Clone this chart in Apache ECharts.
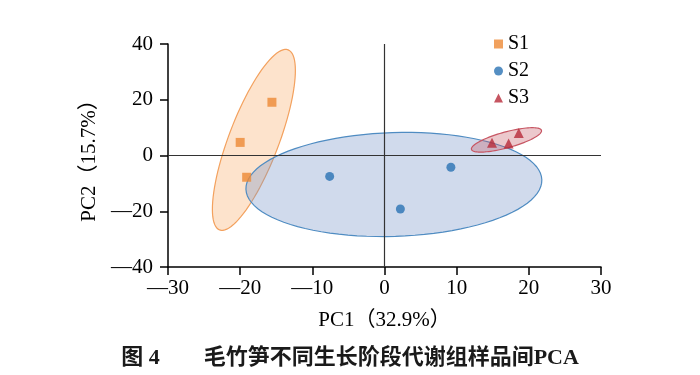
<!DOCTYPE html>
<html>
<head>
<meta charset="utf-8">
<script src="https://cdn.jsdelivr.net/npm/echarts@6/dist/echarts.min.js"></script>
<style>
  html, body { margin: 0; padding: 0; background: #fff; }
  #main { width: 700px; height: 375px; }
</style>
</head>
<body>
<div id="main"></div>
<script>
// 各组样品得分 [PC1, PC2]
var s1Points = [[-15.6, 19.1], [-20.0, 4.7], [-19.1, -7.8]];
var s2Points = [[-7.6, -7.5], [2.2, -19.2], [9.2, -4.2]];
var s3Points = [[14.9, 4.6], [17.2, 4.3], [18.6, 8.1]];

// 置信椭圆: [中心x, 中心y, 半轴1 dx, dy, 半轴2 dx, dy]
var s1Ellipse = [[-18.1, 5.6, 4.75, 32.3, 3.24, -3.19]];
var s2Ellipse = [[1.3, -10.4, 20.5, 1.7, 0.23, -18.6]];
var s3Ellipse = [[16.9, 5.6, 4.85, 3.4, 0.29, -2.76]];

var groupNames = ['S1', 'S2', 'S3'];
var xTicks = { min: -30, max: 30, interval: 10 };
var yTicks = { min: -40, max: 40, interval: 20 };

var serif = '"Times New Roman", "Liberation Serif", "Noto Sans CJK SC", serif';

var chart = echarts.init(document.getElementById('main'), null, { renderer: 'canvas' });

// 画椭圆 (通过坐标轴换算)
function ellipseRender(fill, stroke) {
    return function (params, api) {
        var cx = api.value(0), cy = api.value(1);
        var ux = api.value(2), uy = api.value(3);
        var vx = api.value(4), vy = api.value(5);
        var pts = [];
        for (var i = 0; i < 96; i++) {
            var t = i / 96 * Math.PI * 2;
            var c = Math.cos(t), s = Math.sin(t);
            pts.push(api.coord([cx + ux * c + vx * s, cy + uy * c + vy * s]));
        }
        return {
            type: 'polygon',
            shape: { points: pts },
            style: { fill: fill, stroke: stroke, lineWidth: 1.2 }
        };
    };
}

function minusFmt(v) {
    return v < 0 ? '\u2014' + Math.abs(v) : String(v);
}

var option = {
    animation: false,
    title: {
        text: '图 4\u3000\u3000毛竹笋不同生长阶段代谢组样品间PCA',
        left: 'center',
        top: 342,
        textStyle: { fontFamily: serif, fontSize: 22, fontWeight: 'bold', color: '#1a1a1a' }
    },
    legend: {
        orient: 'vertical',
        left: 494,
        top: 34,
        padding: 0,
        itemWidth: 9,
        itemHeight: 9,
        itemGap: 7,
        selectedMode: false,
        textStyle: { fontFamily: serif, fontSize: 20, color: '#000' },
        data: [
            { name: 'S1', icon: 'rect' },
            { name: 'S2', icon: 'circle' },
            { name: 'S3', icon: 'triangle' }
        ]
    },
    grid: { left: 168, right: 99, top: 44, bottom: 108 },
    xAxis: {
        type: 'value',
        min: xTicks.min, max: xTicks.max, interval: xTicks.interval,
        name: 'PC1（32.9%）',
        nameLocation: 'middle',
        nameGap: 43,
        nameTextStyle: { fontFamily: serif, fontSize: 21, color: '#000' },
        axisLine: { onZero: false, lineStyle: { color: '#000', width: 1.5 } },
        axisTick: { show: true, inside: false, length: 8, lineStyle: { color: '#000', width: 1.5 } },
        axisLabel: { fontFamily: serif, fontSize: 21, color: '#000', margin: 11, formatter: minusFmt },
        splitLine: { show: false }
    },
    yAxis: {
        type: 'value',
        min: yTicks.min, max: yTicks.max, interval: yTicks.interval,
        name: 'PC2（15.7%）',
        nameLocation: 'middle',
        nameGap: 64,
        nameTextStyle: { fontFamily: serif, fontSize: 21, color: '#000' },
        axisLine: { onZero: false, lineStyle: { color: '#000', width: 1.5 } },
        axisTick: { show: true, inside: false, length: 8, lineStyle: { color: '#000', width: 1.5 } },
        axisLabel: { fontFamily: serif, fontSize: 21, color: '#000', margin: 15, formatter: minusFmt },
        splitLine: { show: false }
    },
    series: [
        {
            name: 'S1椭圆', type: 'custom', z: 1, silent: true,
            renderItem: ellipseRender('rgba(248,175,110,0.35)', '#f3a15e'),
            encode: { x: 0, y: 1 },
            data: s1Ellipse
        },
        {
            name: 'S2椭圆', type: 'custom', z: 1, silent: true,
            renderItem: ellipseRender('rgba(120,150,200,0.35)', '#4f8cc2'),
            encode: { x: 0, y: 1 },
            data: s2Ellipse
        },
        {
            name: 'S3椭圆', type: 'custom', z: 1, silent: true,
            renderItem: ellipseRender('rgba(195,85,95,0.32)', '#c75663'),
            encode: { x: 0, y: 1 },
            data: s3Ellipse
        },
        {
            name: groupNames[0], type: 'scatter', z: 3,
            symbol: 'rect', symbolSize: 9,
            itemStyle: { color: '#ee8a36' },
            data: s1Points,
            markLine: {
                silent: true,
                symbol: 'none',
                label: { show: false },
                lineStyle: { color: '#333', width: 1.2, type: 'solid' },
                data: [{ xAxis: 0 }, { yAxis: 0 }]
            }
        },
        {
            name: groupNames[1], type: 'scatter', z: 3,
            symbol: 'circle', symbolSize: 9,
            itemStyle: { color: '#2a73b4' },
            data: s2Points
        },
        {
            name: groupNames[2], type: 'scatter', z: 3,
            symbol: 'triangle', symbolSize: 10,
            itemStyle: { color: '#b82b3a' },
            data: s3Points
        }
    ]
};

chart.setOption(option);
</script>
</body>
</html>
